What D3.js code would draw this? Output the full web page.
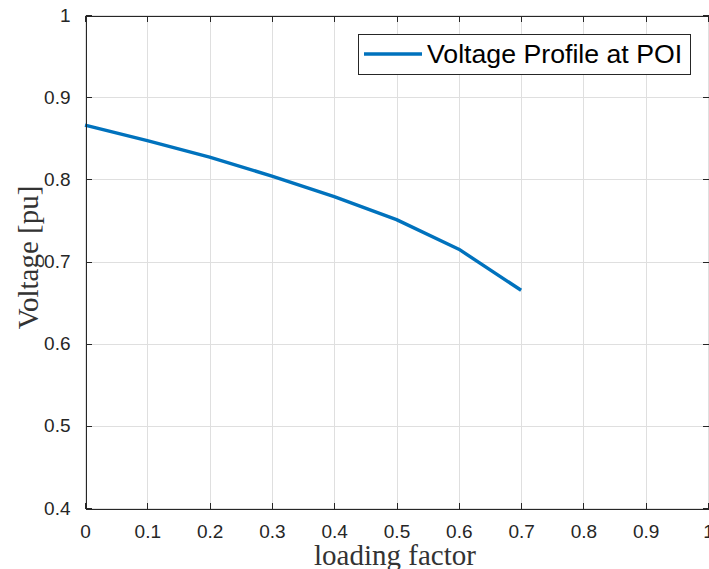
<!DOCTYPE html>
<html>
<head>
<meta charset="utf-8">
<script src="https://cdn.jsdelivr.net/npm/d3@7"></script>
<style>
  html, body { margin: 0; padding: 0; background: #fff; }
  svg { display: block; }
</style>
</head>
<body>
<script>
// Voltage at the point of interconnection versus loading factor
const loadingFactor = [0, 0.1, 0.2, 0.3, 0.4, 0.5, 0.6, 0.7];
const voltagePu = [0.866, 0.847, 0.827, 0.804, 0.779, 0.751, 0.715, 0.665];
const xTicks = [0, 0.1, 0.2, 0.3, 0.4, 0.5, 0.6, 0.7, 0.8, 0.9, 1];
const yTicks = [0.4, 0.5, 0.6, 0.7, 0.8, 0.9, 1];
const seriesName = "Voltage Profile at POI";

const W = 709, H = 569;
const plotLeft = 85, plotRight = 708, plotTop = 15, plotBottom = 508;
const axisColor = "#262626";
const gridColor = "#dfdfdf";
const lineColor = "#0072BD";

const svg = d3.select("body").append("svg")
  .attr("width", W).attr("height", H);

const x = d3.scaleLinear().domain([0, 1]).range([plotLeft, plotRight]);
const y = d3.scaleLinear().domain([0.4, 1]).range([plotBottom, plotTop]);

// grid
const grid = svg.append("g").attr("shape-rendering", "crispEdges");
grid.selectAll("line.vx").data(xTicks).join("line")
  .attr("x1", d => Math.round(x(d)) + 0.5).attr("x2", d => Math.round(x(d)) + 0.5)
  .attr("y1", plotTop).attr("y2", plotBottom)
  .attr("stroke", gridColor).attr("stroke-width", 1);
grid.selectAll("line.hy").data(yTicks).join("line")
  .attr("y1", d => Math.round(y(d)) + 0.5).attr("y2", d => Math.round(y(d)) + 0.5)
  .attr("x1", plotLeft).attr("x2", plotRight)
  .attr("stroke", gridColor).attr("stroke-width", 1);

// data line
const line = d3.line().x((d, i) => x(loadingFactor[i])).y(d => y(d));
svg.append("path").datum(voltagePu)
  .attr("d", line)
  .attr("fill", "none")
  .attr("stroke", lineColor)
  .attr("stroke-width", 3.4)
  .attr("stroke-linejoin", "round");

// axes (box with inward ticks on all sides)
const fmt = d => d3.format("")(+d.toFixed(1));
const tickFont = "'Liberation Sans', Arial, sans-serif";

const xAxisBottom = d3.axisBottom(x).tickValues(xTicks).tickSizeInner(-6).tickSizeOuter(0).tickPadding(16).tickFormat(fmt);
const xAxisTop = d3.axisTop(x).tickValues(xTicks).tickSizeInner(-6).tickSizeOuter(0).tickFormat("");
const yAxisLeft = d3.axisLeft(y).tickValues(yTicks).tickSizeInner(-6).tickSizeOuter(0).tickPadding(15).tickFormat(fmt);
const yAxisRight = d3.axisRight(y).tickValues(yTicks).tickSizeInner(-6).tickSizeOuter(0).tickFormat("");

function styleAxis(g) {
  g.attr("font-size", 19).attr("font-family", tickFont);
  g.select(".domain").attr("stroke", axisColor).attr("stroke-width", 1);
  g.selectAll(".tick line").attr("stroke", axisColor).attr("stroke-width", 1);
  g.selectAll(".tick text").attr("fill", axisColor)
    .style("font-family", tickFont).style("font-size", "19px");
  g.attr("shape-rendering", "crispEdges");
}

svg.append("g").attr("transform", `translate(0,${plotBottom + 0.5})`).call(xAxisBottom).call(styleAxis);
svg.append("g").attr("transform", `translate(0,${plotTop + 0.5})`).call(xAxisTop).call(styleAxis);
svg.append("g").attr("transform", `translate(${plotLeft + 0.5},0)`).call(yAxisLeft).call(styleAxis);
svg.append("g").attr("transform", `translate(${plotRight + 0.5},0)`).call(yAxisRight).call(styleAxis);

// axis labels
const serif = "'Liberation Serif', 'Times New Roman', serif";
svg.append("text")
  .attr("x", 395).attr("y", 565)
  .attr("text-anchor", "middle")
  .style("font-family", serif).style("font-size", "29px")
  .attr("fill", "#333")
  .text("loading factor");

svg.append("text")
  .attr("transform", `translate(38,${(plotTop + plotBottom) / 2 - 4}) rotate(-90)`)
  .attr("text-anchor", "middle")
  .style("font-family", serif).style("font-size", "29px")
  .attr("fill", "#333")
  .text("Voltage [pu]");

// legend
const lg = svg.append("g");
lg.append("rect")
  .attr("x", 358.5).attr("y", 34.5).attr("width", 332).attr("height", 40)
  .attr("fill", "#fff").attr("stroke", axisColor).attr("stroke-width", 1)
  .attr("shape-rendering", "crispEdges");
lg.append("line")
  .attr("x1", 364).attr("x2", 422).attr("y1", 54).attr("y2", 54)
  .attr("stroke", lineColor).attr("stroke-width", 3.4);
lg.append("text")
  .attr("x", 427).attr("y", 63)
  .style("font-family", tickFont).style("font-size", "26.7px")
  .attr("fill", "#000")
  .text(seriesName);
</script>
</body>
</html>
